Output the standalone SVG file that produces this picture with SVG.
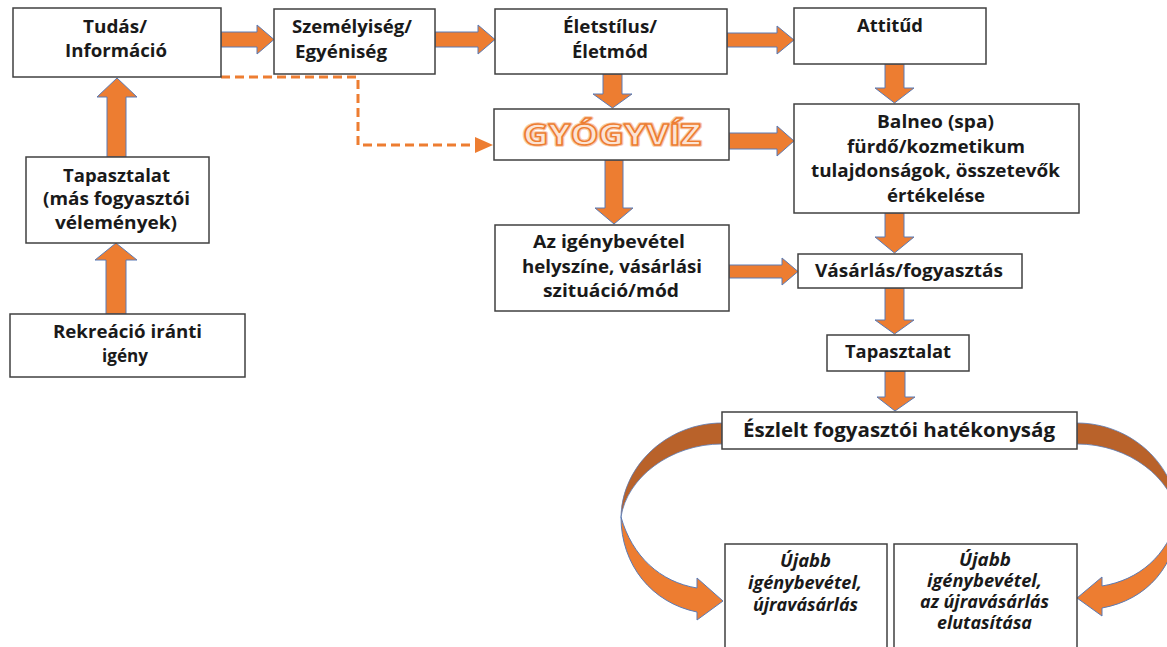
<svg xmlns="http://www.w3.org/2000/svg" width="1167" height="647" viewBox="0 0 1167 647">
<defs>
<style>
.box{fill:#ffffff;stroke:#404040;stroke-width:1.5}
.t{font-family:"Open Sans","Liberation Sans",sans-serif;font-weight:bold;font-size:17px;fill:#1a1a1a;text-anchor:middle}
.ti{font-family:"Open Sans","Liberation Sans",sans-serif;font-weight:bold;font-style:italic;font-size:17px;fill:#1a1a1a;text-anchor:middle}
.arr{fill:#ed7d31;stroke:#5b7bb5;stroke-width:1}
.dark{fill:#b9622a;stroke:#5b7bb5;stroke-width:0.8}
.dash{fill:none;stroke:#ed7d31;stroke-width:3;stroke-dasharray:9 5}
.gv{font-family:"Open Sans","Liberation Sans",sans-serif;font-weight:bold;font-size:28px;text-anchor:middle;stroke-linejoin:round}
</style>
</defs>
<rect width="1167" height="647" fill="#ffffff"/>

<g id="connectors">
<polygon class="arr" points="221,32 257,32 257,25 274,39.5 257,54 257,47 221,47"/>
<polygon class="arr" points="435,32 478,32 478,25 495,39.5 478,54 478,47 435,47"/>
<polygon class="arr" points="727,33 777,33 777,26 794,40 777,54 777,47 727,47"/>
<polygon class="arr" points="729,133 777,133 777,126 794,141 777,156 777,149 729,149"/>
<polygon class="arr" points="729,265 782,265 782,258 798,271.5 782,285 782,278 729,278"/>
<polygon class="arr" points="603,74 622,74 622,94 632,94 612.5,108 593,94 603,94"/>
<polygon class="arr" points="885,64 904,64 904,88 914,88 894.5,103 875,88 885,88"/>
<polygon class="arr" points="605,160 623,160 623,208 633,208 614,224 595,208 605,208"/>
<polygon class="arr" points="885,213 904,213 904,237 914,237 894.5,253 875,237 885,237"/>
<polygon class="arr" points="885,288 904,288 904,320 914,320 894.5,334 875,320 885,320"/>
<polygon class="arr" points="885,371 905,371 905,397 915,397 895,411 877,397 885,397"/>
<polygon class="arr" points="107,157 107,97 97,97 117,78 137,97 126,97 126,157"/>
<polygon class="arr" points="106,314 106,260 95,260 116,243 137,260 126,260 126,314"/>
<path class="dash" d="M221,77 H358 V145 H476"/>
<polygon fill="#ed7d31" points="475,137 493,145 475,153"/>
<path class="dark" d="M722,423 C668,423 622,465 621,517 C627,478 670,444 722,444 Z"/>
<path class="arr" d="M621,517 C621,565 652,603 697,612 L697,620 L723,601 L697,578 L697,588 C660,582 632,556 621,517 Z"/>
<path class="dark" d="M1077,423 C1131,423 1177,465 1178,517 C1172,478 1129,444 1077,444 Z"/>
<path class="arr" d="M1178,517 C1178,565 1147,600 1102,608 L1102,616 L1077,598 L1102,577 L1102,586 C1139,580 1167,556 1178,517 Z"/>
</g>

<g id="tudas">
<rect class="box" x="13" y="8" width="208" height="69"/>
<text class="t" x="115" y="33" textLength="64" lengthAdjust="spacingAndGlyphs">Tudás/</text>
<text class="t" x="116" y="57" textLength="102" lengthAdjust="spacingAndGlyphs">Információ</text>
</g>
<g id="szemelyiseg">
<rect class="box" x="274" y="9" width="161" height="65"/>
<text class="t" x="352" y="33" textLength="120" lengthAdjust="spacingAndGlyphs">Személyiség/</text>
<text class="t" x="341" y="58" textLength="92" lengthAdjust="spacingAndGlyphs">Egyéniség</text>
</g>
<g id="eletstilus">
<rect class="box" x="495" y="9" width="232" height="65"/>
<text class="t" x="610" y="33" textLength="94" lengthAdjust="spacingAndGlyphs">Életstílus/</text>
<text class="t" x="610" y="58" textLength="76" lengthAdjust="spacingAndGlyphs">Életmód</text>
</g>
<g id="attitud">
<rect class="box" x="794" y="8" width="192" height="56"/>
<text class="t" x="890" y="32" textLength="66" lengthAdjust="spacingAndGlyphs">Attitűd</text>
</g>
<g id="gyogyviz">
<rect class="box" x="494" y="109" width="235" height="51"/>
<text class="gv" x="612" y="145" textLength="178" lengthAdjust="spacingAndGlyphs" fill="none" stroke="#f8cbad" stroke-width="3.5">GYÓGYVÍZ</text>
<text class="gv" x="612" y="145" textLength="178" lengthAdjust="spacingAndGlyphs" fill="#fce4d4" stroke="#ed7d31" stroke-width="1.4">GYÓGYVÍZ</text>
</g>
<g id="balneo">
<rect class="box" x="794" y="104" width="285" height="109"/>
<text class="t" x="935.5" y="128" textLength="117" lengthAdjust="spacingAndGlyphs">Balneo (spa)</text>
<text class="t" x="936" y="153" textLength="178" lengthAdjust="spacingAndGlyphs">fürdő/kozmetikum</text>
<text class="t" x="935.5" y="177" textLength="249" lengthAdjust="spacingAndGlyphs">tulajdonságok, összetevők</text>
<text class="t" x="936" y="202" textLength="98" lengthAdjust="spacingAndGlyphs">értékelése</text>
</g>
<g id="igenybevetel">
<rect class="box" x="495" y="225" width="234" height="86"/>
<text class="t" x="609" y="248" textLength="152" lengthAdjust="spacingAndGlyphs">Az igénybevétel</text>
<text class="t" x="612" y="273" textLength="180" lengthAdjust="spacingAndGlyphs">helyszíne, vásárlási</text>
<text class="t" x="611" y="297" textLength="136" lengthAdjust="spacingAndGlyphs">szituáció/mód</text>
</g>
<g id="vasarlas">
<rect class="box" x="798" y="254" width="224" height="34"/>
<text class="t" x="909" y="277" textLength="188" lengthAdjust="spacingAndGlyphs">Vásárlás/fogyasztás</text>
</g>
<g id="tapasztalat-right">
<rect class="box" x="827" y="335" width="142" height="36"/>
<text class="t" x="898" y="358" textLength="106" lengthAdjust="spacingAndGlyphs">Tapasztalat</text>
</g>
<g id="eszlelt">
<rect class="box" x="722" y="412" width="355" height="37"/>
<text class="t" x="899" y="437" style="font-size:20px" textLength="312" lengthAdjust="spacingAndGlyphs">Észlelt fogyasztói hatékonyság</text>
</g>
<g id="ujabb-left">
<rect class="box" x="725" y="544" width="162" height="120"/>
<text class="ti" x="805.5" y="567" textLength="51" lengthAdjust="spacingAndGlyphs">Újabb</text>
<text class="ti" x="805" y="589" textLength="114" lengthAdjust="spacingAndGlyphs">igénybevétel,</text>
<text class="ti" x="805.5" y="611" textLength="105" lengthAdjust="spacingAndGlyphs">újravásárlás</text>
</g>
<g id="ujabb-right">
<rect class="box" x="894" y="544" width="183" height="120"/>
<text class="ti" x="985" y="566" textLength="52" lengthAdjust="spacingAndGlyphs">Újabb</text>
<text class="ti" x="984.5" y="587" textLength="115" lengthAdjust="spacingAndGlyphs">igénybevétel,</text>
<text class="ti" x="984.5" y="608" textLength="129" lengthAdjust="spacingAndGlyphs">az újravásárlás</text>
<text class="ti" x="984.5" y="629" textLength="95" lengthAdjust="spacingAndGlyphs">elutasítása</text>
</g>
<g id="tapasztalat-left">
<rect class="box" x="26" y="157" width="183" height="86"/>
<text class="t" x="116.5" y="182" textLength="107" lengthAdjust="spacingAndGlyphs">Tapasztalat</text>
<text class="t" x="116.5" y="205" textLength="147" lengthAdjust="spacingAndGlyphs">(más fogyasztói</text>
<text class="t" x="116" y="229" textLength="122" lengthAdjust="spacingAndGlyphs">vélemények)</text>
</g>
<g id="rekreacio">
<rect class="box" x="10" y="314" width="235" height="63"/>
<text class="t" x="127.5" y="338" textLength="149" lengthAdjust="spacingAndGlyphs">Rekreáció iránti</text>
<text class="t" x="125" y="362" textLength="46" lengthAdjust="spacingAndGlyphs">igény</text>
</g>
</svg>
